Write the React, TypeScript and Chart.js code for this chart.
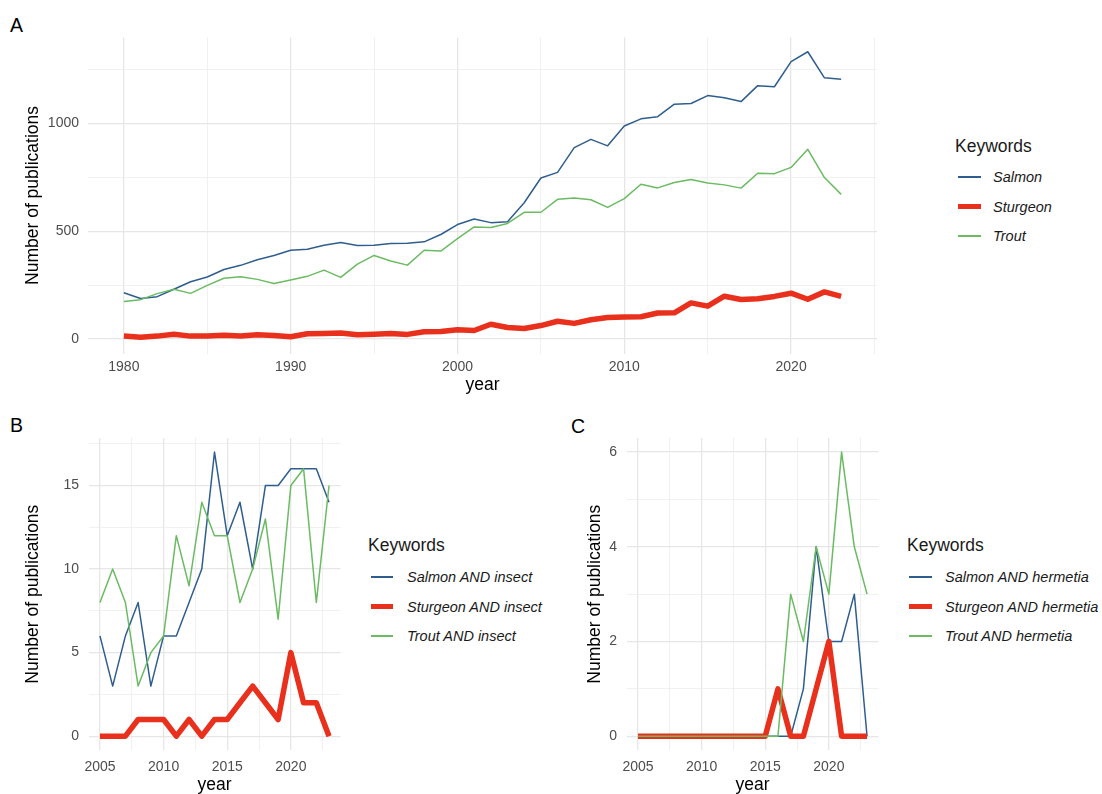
import React, { useEffect, useRef } from "react";
import { Chart, registerables } from "chart.js";

Chart.register(...registerables);

// ---------- Data ----------
const yearsA = [1980, 1981, 1982, 1983, 1984, 1985, 1986, 1987, 1988, 1989, 1990, 1991, 1992, 1993, 1994, 1995, 1996, 1997, 1998, 1999, 2000, 2001, 2002, 2003, 2004, 2005, 2006, 2007, 2008, 2009, 2010, 2011, 2012, 2013, 2014, 2015, 2016, 2017, 2018, 2019, 2020, 2021, 2022, 2023];
const salmonA = [215, 188, 197, 231, 266, 288, 323, 342, 368, 388, 412, 417, 435, 448, 434, 435, 443, 445, 451, 485, 531, 557, 540, 544, 632, 747, 773, 888, 926, 896, 988, 1021, 1031, 1089, 1092, 1129, 1119, 1101, 1175, 1170, 1286, 1332, 1211, 1205];
const sturgeonA = [15, 9, 14, 23, 14, 14, 18, 15, 20, 17, 11, 25, 26, 28, 20, 23, 26, 22, 34, 35, 43, 40, 69, 54, 49, 63, 83, 73, 90, 100, 103, 104, 121, 122, 168, 153, 199, 184, 187, 198, 213, 185, 219, 198];
const troutA = [174, 183, 211, 231, 212, 249, 282, 289, 277, 258, 274, 291, 320, 286, 348, 388, 362, 343, 412, 408, 466, 520, 517, 536, 588, 588, 648, 654, 646, 611, 651, 718, 701, 726, 740, 724, 715, 700, 769, 767, 796, 880, 749, 671];

const yearsBC = [2005, 2006, 2007, 2008, 2009, 2010, 2011, 2012, 2013, 2014, 2015, 2016, 2017, 2018, 2019, 2020, 2021, 2022, 2023];
const salmonB = [6, 3, 6, 8, 3, 6, 6, 8, 10, 17, 12, 14, 10, 15, 15, 16, 16, 16, 14];
const sturgeonB = [0, 0, 0, 1, 1, 1, 0, 1, 0, 1, 1, 2, 3, 2, 1, 5, 2, 2, 0];
const troutB = [8, 10, 8, 3, 5, 6, 12, 9, 14, 12, 12, 8, 10, 13, 7, 15, 16, 8, 15];

const salmonC = [0, 0, 0, 0, 0, 0, 0, 0, 0, 0, 0, 0, 0, 1, 4, 2, 2, 3, 0];
const sturgeonC = [0, 0, 0, 0, 0, 0, 0, 0, 0, 0, 0, 1, 0, 0, 1, 2, 0, 0, 0];
const troutC = [0, 0, 0, 0, 0, 0, 0, 0, 0, 0, 0, 0, 3, 2, 4, 3, 6, 4, 3];

const labelsA = ["Salmon", "Sturgeon", "Trout"];
const labelsB = ["Salmon AND insect", "Sturgeon AND insect", "Trout AND insect"];
const labelsC = ["Salmon AND hermetia", "Sturgeon AND hermetia", "Trout AND hermetia"];

const xMajorA = [1980, 1990, 2000, 2010, 2020];
const xMinorA = [1985, 1995, 2005, 2015, 2025];
const yMajorA = [0, 500, 1000];
const yMinorA = [250, 750, 1250];

const xMajorBC = [2005, 2010, 2015, 2020];
const xMinorBC = [2007.5, 2012.5, 2017.5, 2022.5];
const yMajorB = [0, 5, 10, 15];
const yMinorB = [2.5, 7.5, 12.5, 17.5];
const yMajorC = [0, 2, 4, 6];
const yMinorC = [1, 3, 5];

// ---------- Styles ----------
const FONT = "'Liberation Sans', Arial, Helvetica, sans-serif";
const BLUE = "#2f5e8e";
const RED = "#e8301c";
const GREEN = "#6abb62";
const COLORS = [BLUE, RED, GREEN];
const WIDTHS = [1.5, 5.5, 1.5];

type PanelProps = {
  box: { left: number; top: number; width: number; height: number };
  area: { left: number; top: number; right: number; bottom: number };
  xRange: [number, number];
  yRange: [number, number];
  years: number[];
  series: number[][];
  labels: string[];
  xMajor: number[];
  xMinor: number[];
  yMajor: number[];
  yMinor: number[];
  yTitlePad: number;
  yTickPad: number;
  xTickPad: number;
  xTitlePad: number;
  xTitleLH: number;
};

function Panel(p: PanelProps) {
  const ref = useRef<HTMLCanvasElement | null>(null);
  useEffect(() => {
    if (!ref.current) return;
    const xTicks = [...p.xMajor, ...p.xMinor].sort((a, b) => a - b);
    const yTicks = [...p.yMajor, ...p.yMinor].sort((a, b) => a - b);
    const gridColor = (majors: number[]) => (ctx: any) =>
      ctx.tick && majors.includes(ctx.tick.value) ? "#e6e6e6" : "#eeeeee";
    const gridWidth = (majors: number[]) => (ctx: any) =>
      ctx.tick && majors.includes(ctx.tick.value) ? 1.3 : 0.8;
    const order = [3, 2, 1];
    const chart = new Chart(ref.current, {
      type: "line",
      data: {
        datasets: p.series.map((s, i) => ({
          label: p.labels[i],
          data: s.map((v, j) => ({ x: p.years[j], y: v })),
          borderColor: COLORS[i],
          backgroundColor: COLORS[i],
          borderWidth: WIDTHS[i],
          pointRadius: 0,
          tension: 0,
          borderJoinStyle: "round" as const,
          borderCapStyle: "butt" as const,
          fill: false,
          order: order[i],
        })),
      },
      options: {
        animation: false,
        responsive: false,
        events: [],
        layout: {
          padding: {
            left: 0,
            top: p.area.top - p.box.top,
            right: p.box.left + p.box.width - p.area.right,
            bottom: 0,
          },
        },
        plugins: {
          legend: { display: false },
          tooltip: { enabled: false },
        },
        scales: {
          x: {
            type: "linear",
            min: p.xRange[0],
            max: p.xRange[1],
            afterBuildTicks: (scale: any) => {
              scale.ticks = xTicks.map((v) => ({ value: v }));
            },
            afterFit: (scale: any) => {
              scale.height = p.box.top + p.box.height - p.area.bottom;
            },
            border: { display: false },
            grid: {
              drawTicks: false,
              color: gridColor(p.xMajor),
              lineWidth: gridWidth(p.xMajor),
            },
            ticks: {
              autoSkip: false,
              maxRotation: 0,
              padding: p.xTickPad,
              color: "#4d4d4d",
              font: { family: FONT, size: 14 },
              callback: (v: any) => (p.xMajor.includes(Number(v)) ? String(v) : ""),
            },
            title: {
              display: true,
              text: "year",
              color: "#000000",
              font: { family: FONT, size: 17.5, lineHeight: p.xTitleLH },
              padding: { top: 0, bottom: p.xTitlePad },
            },
          },
          y: {
            type: "linear",
            min: p.yRange[0],
            max: p.yRange[1],
            afterBuildTicks: (scale: any) => {
              scale.ticks = yTicks.map((v) => ({ value: v }));
            },
            afterFit: (scale: any) => {
              scale.width = p.area.left - p.box.left;
            },
            border: { display: false },
            grid: {
              drawTicks: false,
              color: gridColor(p.yMajor),
              lineWidth: gridWidth(p.yMajor),
            },
            ticks: {
              autoSkip: false,
              padding: p.yTickPad,
              color: "#4d4d4d",
              font: { family: FONT, size: 14 },
              callback: (v: any) => (p.yMajor.includes(Number(v)) ? String(v) : ""),
            },
            title: {
              display: true,
              text: "Number of publications",
              color: "#000000",
              font: { family: FONT, size: 17.5, lineHeight: 1.2 },
              padding: { top: p.yTitlePad, bottom: 0 },
            },
          },
        },
      },
    } as any);
    return () => chart.destroy();
  }, []);
  return (
    <canvas
      ref={ref}
      width={p.box.width}
      height={p.box.height}
      style={{
        position: "absolute",
        left: p.box.left,
        top: p.box.top,
        width: p.box.width,
        height: p.box.height,
      }}
    />
  );
}

function Legend(props: {
  left: number;
  titleY: number;
  itemY: number[];
  lineLeft: number;
  lineW: number;
  textLeft: number;
  labels: string[];
}) {
  return (
    <>
      <div
        style={{
          position: "absolute",
          left: props.left,
          top: props.titleY - 11,
          height: 22,
          lineHeight: "22px",
          fontFamily: FONT,
          fontSize: 17.5,
          color: "#1a1a1a",
          whiteSpace: "nowrap",
        }}
      >
        Keywords
      </div>
      {props.labels.map((l, i) => (
        <React.Fragment key={l}>
          <div
            style={{
              position: "absolute",
              left: props.lineLeft,
              top: props.itemY[i] - WIDTHS[i] / 2,
              width: props.lineW,
              height: WIDTHS[i],
              background: COLORS[i],
            }}
          />
          <div
            style={{
              position: "absolute",
              left: props.textLeft,
              top: props.itemY[i] - 10,
              height: 20,
              lineHeight: "20px",
              fontFamily: FONT,
              fontSize: 14.5,
              fontStyle: "italic",
              color: "#1a1a1a",
              whiteSpace: "nowrap",
            }}
          >
            {l}
          </div>
        </React.Fragment>
      ))}
    </>
  );
}

function Letter(props: { x: number; y: number; t: string }) {
  return (
    <div
      style={{
        position: "absolute",
        left: props.x,
        top: props.y - 12,
        height: 24,
        lineHeight: "24px",
        fontFamily: FONT,
        fontSize: 19.5,
        color: "#000",
      }}
    >
      {props.t}
    </div>
  );
}

export default function App() {
  return (
    <div
      style={{
        position: "absolute",
        left: 0,
        top: 0,
        width: 1102,
        height: 794,
        background: "#ffffff",
        overflow: "hidden",
      }}
    >
      <Letter x={10} y={25} t="A" />
      <Letter x={10} y={425} t="B" />
      <Letter x={571} y={426} t="C" />

      <Panel
        box={{ left: 0, top: 20, width: 900, height: 380 }}
        area={{ left: 88, top: 34, right: 877, bottom: 353.5 }}
        xRange={[1977.85, 2025.15]}
        yRange={[-66.6, 1398.6]}
        years={yearsA}
        series={[salmonA, sturgeonA, troutA]}
        labels={labelsA}
        xMajor={xMajorA}
        xMinor={xMinorA}
        yMajor={yMajorA}
        yMinor={yMinorA}
        yTitlePad={22.5}
        yTickPad={9}
        xTickPad={5}
        xTitlePad={4.5}
        xTitleLH={1.2}
      />
      <Panel
        box={{ left: 0, top: 420, width: 346, height: 374 }}
        area={{ left: 88.5, top: 433.8, right: 340.5, bottom: 750.4 }}
        xRange={[2004.1, 2023.9]}
        yRange={[-0.85, 17.85]}
        years={yearsBC}
        series={[salmonB, sturgeonB, troutB]}
        labels={labelsB}
        xMajor={xMajorBC}
        xMinor={xMinorBC}
        yMajor={yMajorB}
        yMinor={yMinorB}
        yTitlePad={22.5}
        yTickPad={9.5}
        xTickPad={8}
        xTitlePad={0}
        xTitleLH={1.0}
      />
      <Panel
        box={{ left: 560, top: 420, width: 325, height: 374 }}
        area={{ left: 626.5, top: 434, right: 878.5, bottom: 750.4 }}
        xRange={[2004.1, 2023.9]}
        yRange={[-0.3, 6.3]}
        years={yearsBC}
        series={[salmonC, sturgeonC, troutC]}
        labels={labelsC}
        xMajor={xMajorBC}
        xMinor={xMinorBC}
        yMajor={yMajorC}
        yMinor={yMinorC}
        yTitlePad={24.5}
        yTickPad={9.5}
        xTickPad={8}
        xTitlePad={0}
        xTitleLH={1.0}
      />

      <Legend
        left={955}
        titleY={146}
        itemY={[177, 206.5, 236]}
        lineLeft={958}
        lineW={23}
        textLeft={993}
        labels={labelsA}
      />
      <Legend
        left={368}
        titleY={545}
        itemY={[577, 606.5, 636]}
        lineLeft={371}
        lineW={22}
        textLeft={407}
        labels={labelsB}
      />
      <Legend
        left={907}
        titleY={545}
        itemY={[577, 606.5, 636]}
        lineLeft={909}
        lineW={23}
        textLeft={945}
        labels={labelsC}
      />
    </div>
  );
}
